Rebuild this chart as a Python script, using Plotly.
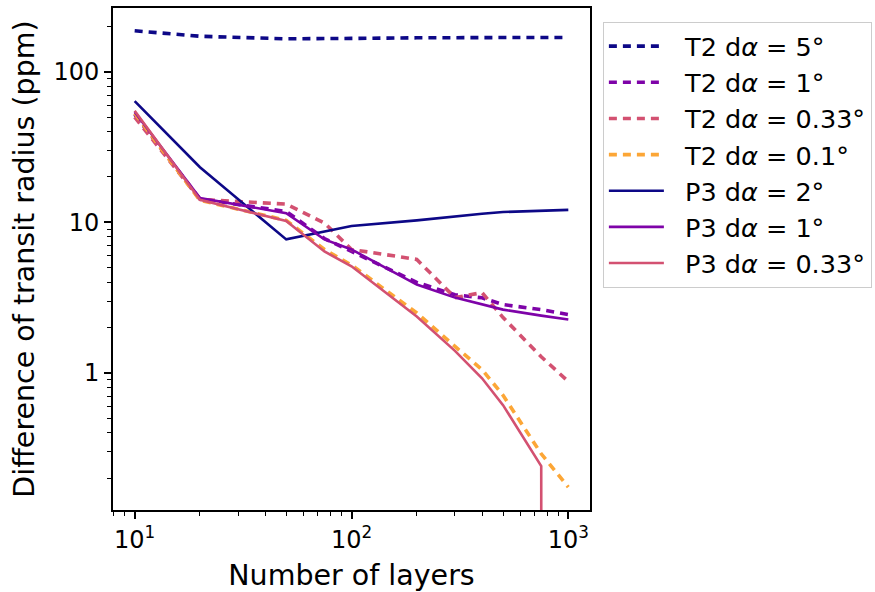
import numpy as np
import plotly.graph_objects as go

# ---- data ----
layers = [10, 20, 50, 75, 100, 200, 300, 400, 500, 750, 1000]

t2_5 = [187, 172, 165.5, 165, 166.5, 168, 169, 169, 169, 169, 169]
t2_1 = [52, 14.3, 11.8, 7.8, 6.4, 3.99, 3.3, 3.15, 2.84, 2.63, 2.44]
t2_033 = [50, 14.2, 13.2, 9.9, 6.6, 5.67, 3.16, 3.41, 2.33, 1.28, 0.875]
t2_01 = [53, 14.0, 10.3, 6.6, 5.2, 2.5, 1.50, 1.05, 0.71, 0.29, 0.174]
p3_2 = [63.8, 23.2, 7.7, 8.7, 9.45, 10.3, 11.0, 11.4, 11.7, 11.9, 12.1]
p3_1 = [54, 14.5, 11.5, 7.7, 6.6, 3.86, 3.16, 2.84, 2.63, 2.40, 2.26]
p3_033 = [55, 14.1, 10.2, 6.4, 5.1, 2.37, 1.40, 0.92, 0.61, 0.24, 0]

names = ["T2 d<i>α</i> = 5°", "T2 d<i>α</i> = 1°", "T2 d<i>α</i> = 0.33°", "T2 d<i>α</i> = 0.1°",
         "P3 d<i>α</i> = 2°", "P3 d<i>α</i> = 1°", "P3 d<i>α</i> = 0.33°"]
series = [t2_5, t2_1, t2_033, t2_01, p3_2, p3_1, p3_033]
colors = ["#0d0887", "#7e03a8", "#d35171", "#fca636", "#0d0887", "#7e03a8", "#d35171"]
dashed = [True, True, True, True, False, False, False]

x_tick_vals = [10, 100, 1000]
x_tick_text = ["10<sup>1</sup>", "10<sup>2</sup>", "10<sup>3</sup>"]
y_tick_vals = [1, 10, 100]
y_tick_text = ["1", "10", "100"]

FONT = "DejaVu Sans"
FS_TICK = 24
FS_TITLE = 28.5
FS_LEG = 25.5
NB = "\u00a0\u00a0"

fig = go.Figure()
for i, (name, ys, col, d) in enumerate(zip(names, series, colors, dashed)):
    # mimic matplotlib log clipping of non-positive values
    yplot = [v if v > 0 else 1e-300 for v in ys]
    fig.add_trace(go.Scatter(
        x=layers, y=yplot, mode="lines", name=NB + name, legendgroup=f"g{i}",
        line=dict(color=col, width=3.6 if d else 2.6,
                  dash="8px,6px" if d else "solid"),
    ))

pos = np.log10([v for s in series for v in s if v > 0])
ymin, ymax = pos.min(), pos.max()
pad = 0.05 * (ymax - ymin)
xl = np.log10([min(layers), max(layers)])
xpad = 0.05 * (xl[1] - xl[0])

minor_x = [v * 10 ** k for k in range(0, 4) for v in range(2, 10)]
minor_y = [v * 10 ** k for k in range(-1, 3) for v in range(2, 10)]

axis_common = dict(showline=True, linewidth=2, linecolor="black", mirror=True,
                   ticks="outside", ticklen=7, tickwidth=1.6, tickcolor="black",
                   showgrid=False, zeroline=False, automargin=False,
                   tickfont=dict(family=FONT, size=FS_TICK, color="black"))

fig.update_xaxes(type="log", range=[xl[0] - xpad, xl[1] + xpad],
                 tickmode="array", tickvals=x_tick_vals, ticktext=x_tick_text,
                 minor=dict(tickmode="array", tickvals=minor_x, ticks="outside",
                            ticklen=4, tickwidth=1.2, tickcolor="black", showgrid=False),
                 title=dict(text="Number of layers", font=dict(family=FONT, size=FS_TITLE, color="black"),
                            standoff=12),
                 **axis_common)
fig.update_yaxes(type="log", range=[ymin - pad, ymax + pad],
                 tickmode="array", tickvals=y_tick_vals, ticktext=y_tick_text,
                 minor=dict(tickmode="array", tickvals=minor_y, ticks="outside",
                            ticklen=4, tickwidth=1.2, tickcolor="black", showgrid=False),
                 title=dict(text="Difference of transit radius (ppm)",
                            font=dict(family=FONT, size=FS_TITLE, color="black"), standoff=10),
                 **axis_common)

fig.update_layout(
    width=875, height=592,
    margin=dict(l=113, r=285, t=8, b=82, autoexpand=False),
    plot_bgcolor="white", paper_bgcolor="white",
    font=dict(family=FONT, size=FS_TICK, color="black"),
    legend=dict(x=1.027, y=0.972, xanchor="left", yanchor="top",
                bordercolor="#cccccc", borderwidth=1, bgcolor="white",
                font=dict(family=FONT, size=FS_LEG, color="black"),
                tracegroupgap=0, itemwidth=55),
    showlegend=True,
)

fig.write_html("out.html")
